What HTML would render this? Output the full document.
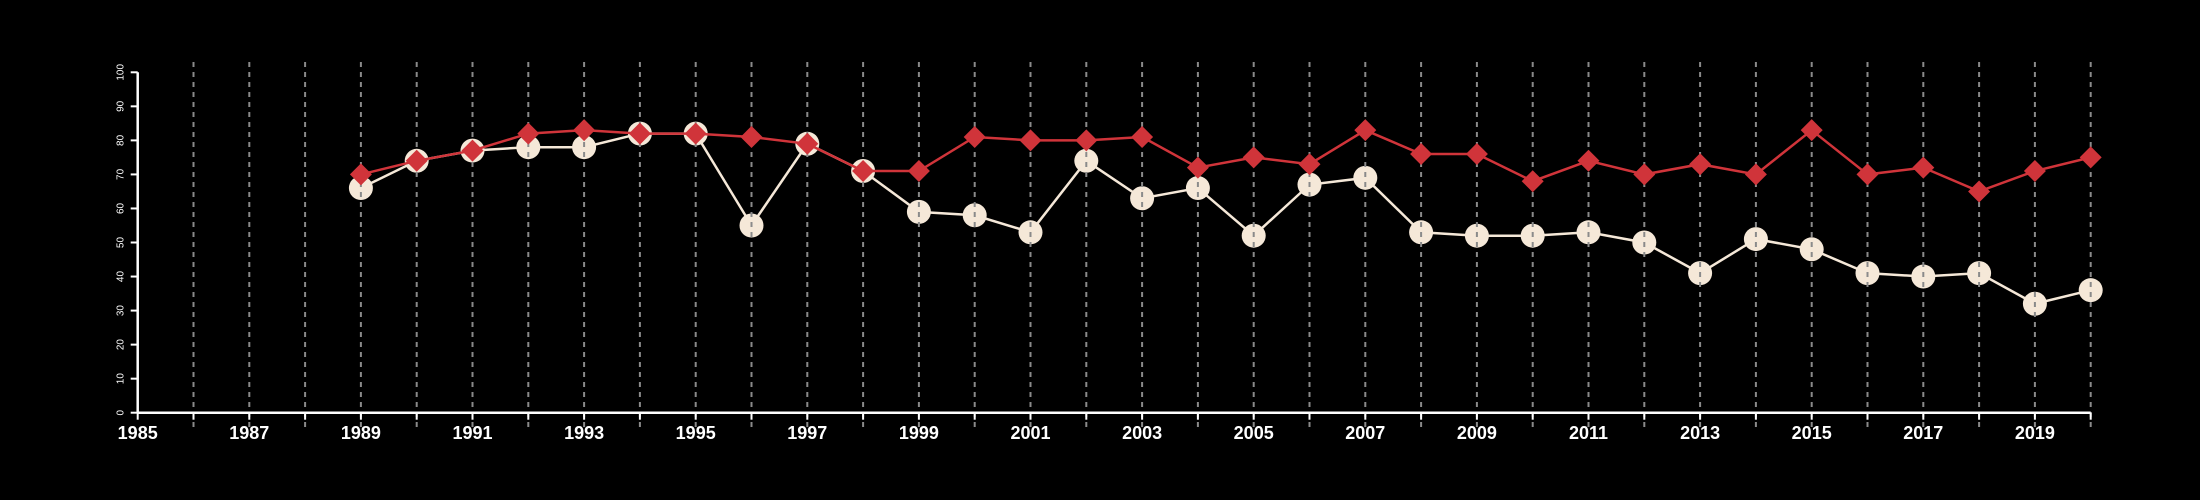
<!DOCTYPE html>
<html><head><meta charset="utf-8"><style>
html,body{margin:0;padding:0;background:#000;width:2200px;height:500px;overflow:hidden}
svg{display:block}
text{font-family:"Liberation Sans",sans-serif;fill:#fff}
</style></head><body>
<svg id="chart" width="2200" height="500" xmlns="http://www.w3.org/2000/svg">
<rect width="2200" height="500" fill="#000"/>
<g id="g-white-line"></g><g id="g-circles"></g><g id="g-grid"></g><g id="g-red"></g><g id="g-axes"></g>
</svg>
<script>
const years = [1989,1990,1991,1992,1993,1994,1995,1996,1997,1998,1999,2000,2001,2002,2003,2004,2005,2006,2007,2008,2009,2010,2011,2012,2013,2014,2015,2016,2017,2018,2019,2020];
const redValues = [70,74,77,82,83,82,82,81,79,71,71,81,80,80,81,72,75,73,83,76,76,68,74,70,73,70,83,70,72,65,71,75];
const whiteValues = [66,74,77,78,78,82,82,55,79,71,59,58,53,74,63,66,52,67,69,53,52,52,53,50,41,51,48,41,40,41,32,36];
const yTicks = [0,10,20,30,40,50,60,70,80,90,100];
const xLabelYears = [1985,1987,1989,1991,1993,1995,1997,1999,2001,2003,2005,2007,2009,2011,2013,2015,2017,2019];
const xMin=1985,xMax=2020,x0=137.7,x1=2090.7,yBase=412.7,yTop=72.3;
const X=v=>x0+(v-xMin)*(x1-x0)/(xMax-xMin);
const Y=v=>yBase-v*(yBase-yTop)/100;
const NS="http://www.w3.org/2000/svg";
function mk(tag,attrs,parent){const e=document.createElementNS(NS,tag);for(const k in attrs)e.setAttribute(k,attrs[k]);document.getElementById(parent).appendChild(e);return e;}
// white line
let e=mk('polyline',{points:years.map((y,i)=>X(y)+','+Y(whiteValues[i])).join(' '),fill:'none',stroke:'#f5e8d8','stroke-width':2.5},'g-white-line');


years.forEach((y,i)=>{
  const c=mk('circle',{cx:X(y),cy:Y(whiteValues[i]),r:12,fill:'#f5e8d8'},'g-circles');
  
  
});
// grid
for(let y=1986;y<=2020;y++){
  const g=mk('line',{x1:X(y),x2:X(y),y1:62,y2:428,stroke:'#8a8a8a','stroke-width':2,'stroke-dasharray':'5,5'},'g-grid');
  
  
}
// red
e=mk('polyline',{points:years.map((y,i)=>X(y)+','+Y(redValues[i])).join(' '),fill:'none',stroke:'#d0343a','stroke-width':2.5},'g-red');


years.forEach((y,i)=>{
  const cx=X(y),cy=Y(redValues[i]),d=11;
  const p=mk('polygon',{points:`${cx},${cy-d} ${cx+d},${cy} ${cx},${cy+d} ${cx-d},${cy}`,fill:'#d0343a'},'g-red');
  
  
});
// axes
e=mk('line',{x1:X(1985),x2:X(2020),y1:yBase,y2:yBase,stroke:'#fff','stroke-width':2.5},'g-axes');


e=mk('line',{x1:x0,x2:x0,y1:yTop,y2:yBase,stroke:'#fff','stroke-width':2.5},'g-axes');


yTicks.forEach(v=>{
  const t=mk('line',{x1:x0-7,x2:x0,y1:Y(v),y2:Y(v),stroke:'#fff','stroke-width':2},'g-axes');
  
  
  const l=mk('text',{x:0,y:0,transform:`translate(${x0-14},${Y(v)}) rotate(-90)`,'text-anchor':'middle','font-size':10},'g-axes');
  l.textContent=v;
  
  
});
for(let y=1985;y<=2020;y++){
  const t=mk('line',{x1:X(y),x2:X(y),y1:yBase,y2:yBase+7,stroke:'#fff','stroke-width':2},'g-axes');
  
  
}
xLabelYears.forEach(y=>{
  const l=mk('text',{x:X(y),y:439,'text-anchor':'middle','font-size':18,'font-weight':'bold'},'g-axes');
  l.textContent=y;
  
  
});
</script>
</body></html>
